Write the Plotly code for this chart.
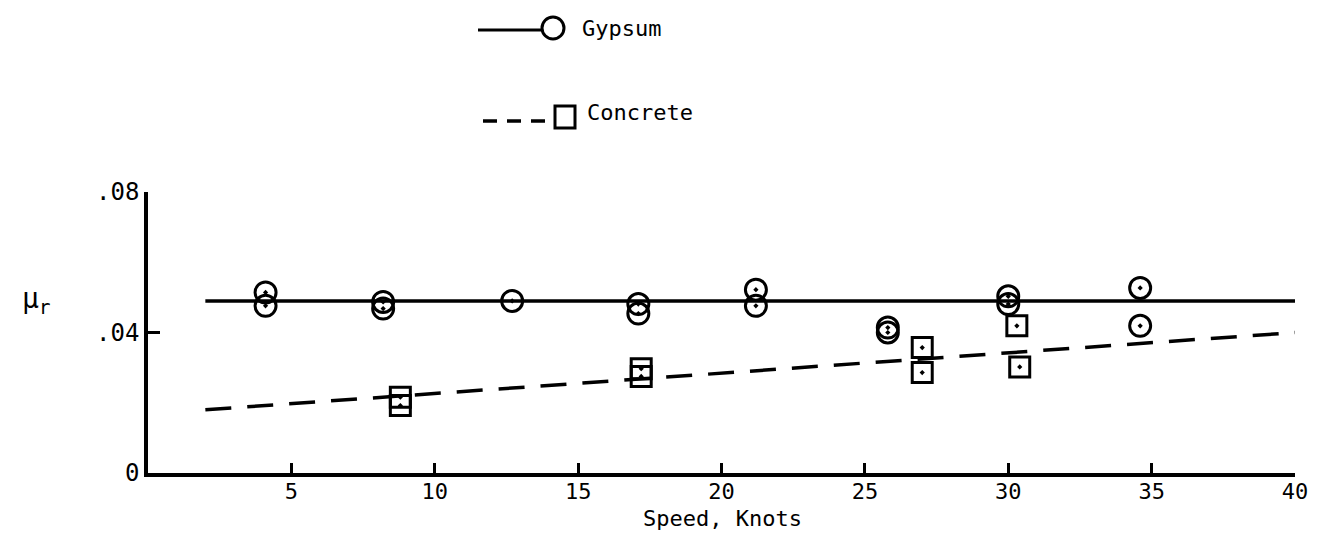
import plotly.graph_objects as go

# ---- data ----
gypsum_speed = [4.1, 4.1, 8.2, 8.2, 12.7, 17.1, 17.1, 21.2, 21.2, 25.8, 25.8, 30.0, 30.0, 34.6, 34.6]
gypsum_mu = [0.0514, 0.0476, 0.0487, 0.0468, 0.0490, 0.0481, 0.0454, 0.0522, 0.0476,
             0.0414, 0.0400, 0.0503, 0.0481, 0.0527, 0.0419]
concrete_speed = [8.8, 8.8, 17.2, 17.2, 27.0, 27.0, 30.3, 30.4]
concrete_mu = [0.0216, 0.0192, 0.0297, 0.0275, 0.0357, 0.0286, 0.0419, 0.0302]

gypsum_fit_x = [2, 40]
gypsum_fit_y = [0.049, 0.049]
concrete_fit_x = [2, 40]
concrete_fit_y = [0.018, 0.040]

x_ticks = [5, 10, 15, 20, 25, 30, 35, 40]
y_ticks = [0, 0.04, 0.08]
y_tick_labels = ["0", ".04", ".08"]

FONT = "DejaVu Sans Mono"
INK = "black"

fig = go.Figure()
fig.add_trace(go.Scatter(x=gypsum_fit_x, y=gypsum_fit_y, mode="lines",
                         line=dict(color=INK, width=3.5), showlegend=False))
fig.add_trace(go.Scatter(x=concrete_fit_x, y=concrete_fit_y, mode="lines",
                         line=dict(color=INK, width=3.5, dash="26px,16px"), showlegend=False))
fig.add_trace(go.Scatter(x=gypsum_speed, y=gypsum_mu, mode="markers", name="Gypsum",
                         marker=dict(symbol="circle-open-dot", size=21, color=INK,
                                     line=dict(width=3, color=INK)),
                         showlegend=False))
fig.add_trace(go.Scatter(x=concrete_speed, y=concrete_mu, mode="markers", name="Concrete",
                         marker=dict(symbol="square-open-dot", size=20, color=INK,
                                     line=dict(width=3, color=INK)),
                         showlegend=False))

OFF = 8  # page body margin
W, H = 1321 - 2 * OFF, 539 - 2 * OFF
# plot area in page pixels
PL, PR, PT, PB = 148, 1295, 192, 473
L, R, T, B = PL - OFF, W - (PR - OFF), PT - OFF, H - (PB - OFF)
pw, ph = W - L - R, H - T - B

def px(x):
    return (x - OFF - L) / pw

def py(y):
    return (H - B - (y - OFF)) / ph

shapes = [
    # legend: Gypsum
    dict(type="line", xref="paper", yref="paper", x0=px(478), x1=px(542), y0=py(30), y1=py(30),
         line=dict(color=INK, width=3)),
    dict(type="circle", xref="paper", yref="paper", xsizemode="pixel", ysizemode="pixel",
         xanchor=px(553), yanchor=py(28), x0=-11, x1=11, y0=-11, y1=11,
         line=dict(color=INK, width=3)),
    # legend: Concrete
    dict(type="line", xref="paper", yref="paper", x0=px(483), x1=px(555), y0=py(121), y1=py(121),
         line=dict(color=INK, width=3.5, dash="14px,10px")),
    dict(type="rect", xref="paper", yref="paper", xsizemode="pixel", ysizemode="pixel",
         xanchor=px(565), yanchor=py(117), x0=-10, x1=10, y0=-11, y1=11,
         line=dict(color=INK, width=3), fillcolor="white"),
]

annotations = [
    dict(text="Gypsum", xref="paper", yref="paper", x=px(580), y=py(28), xanchor="left",
         yanchor="middle", showarrow=False, font=dict(family=FONT, size=22, color=INK)),
    dict(text="Concrete", xref="paper", yref="paper", x=px(585), y=py(113), xanchor="left",
         yanchor="middle", showarrow=False, font=dict(family=FONT, size=22, color=INK)),
    dict(text="μ<sub>r</sub>", xref="paper", yref="paper", x=px(36), y=py(300), xanchor="center",
         yanchor="middle", showarrow=False, font=dict(family=FONT, size=28, color=INK)),
    dict(text="Speed, Knots", xref="paper", yref="paper", x=px(722), y=py(518), xanchor="center",
         yanchor="middle", showarrow=False, font=dict(family=FONT, size=22, color=INK)),
]

fig.update_layout(
    width=W, height=H,
    margin=dict(l=L, r=R, t=T, b=B, autoexpand=False),
    paper_bgcolor="white", plot_bgcolor="white",
    font=dict(family=FONT, size=22, color=INK),
    shapes=shapes, annotations=annotations,
    xaxis=dict(range=[0, 40], tickvals=x_ticks, ticks="inside", ticklen=10, tickwidth=3,
               tickcolor=INK, showline=True, linecolor=INK, linewidth=3.5, showgrid=False,
               zeroline=False, tickfont=dict(family=FONT, size=22), automargin=False,
               ticklabelstandoff=-4),
    yaxis=dict(range=[0, 0.08], tickvals=y_ticks, ticktext=y_tick_labels, ticks="inside",
               ticklen=12, tickwidth=3, tickcolor=INK, showline=True, linecolor=INK,
               linewidth=3.5, showgrid=False, zeroline=False,
               tickfont=dict(family=FONT, size=24), automargin=False),
)

fig.write_html("out.html")
